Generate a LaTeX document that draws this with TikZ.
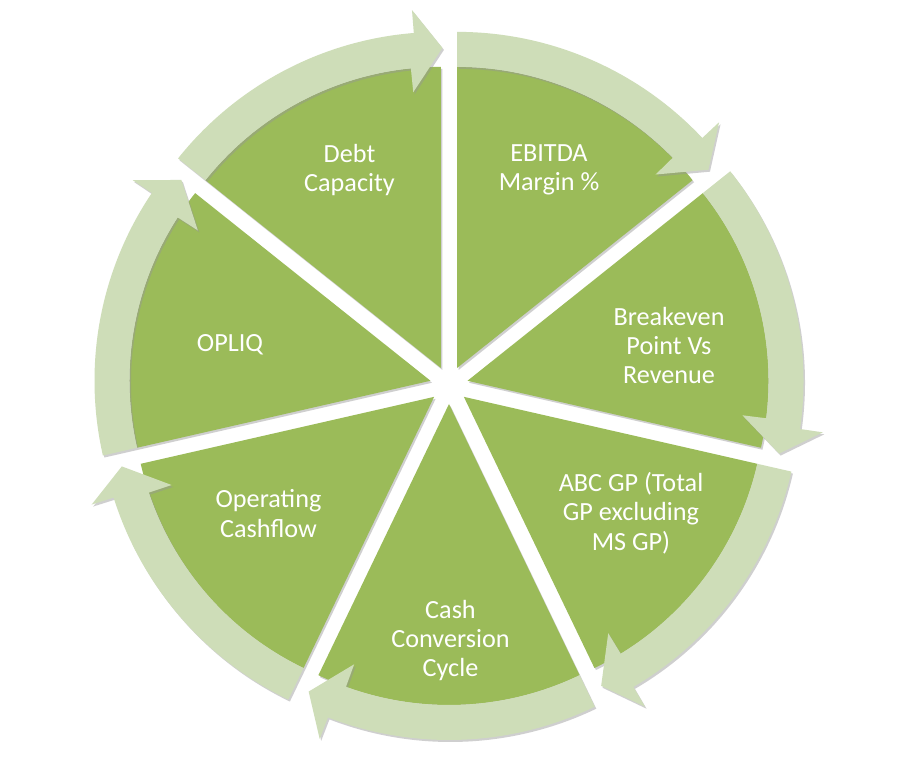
\documentclass[tikz,border=0pt]{standalone}
\usepackage{fontspec}
\setmainfont{Carlito}
\usetikzlibrary{calc}
\definecolor{slicegreen}{RGB}{155,187,89}
\definecolor{bandgreen}{RGB}{206,221,184}
\definecolor{shadowgray}{RGB}{150,150,150}
\begin{document}
\begin{tikzpicture}[x=1pt,y=1pt,
  lbl/.style={text=white, align=center, inner sep=0pt, font=\fontsize{26.2pt}{29.3pt}\selectfont},
  sliceshade/.style={fill=shadowgray, fill opacity=0.45},
  slicefill/.style={fill=slicegreen},
  bandfill/.style={fill=bandgreen}]
\fill[white] (0,0) rectangle (900,774);
\useasboundingbox (0,0) rectangle (900,774);
\coordinate (C) at (449,389);
\def\R{301pt}\def\Ri{301pt}\def\Ro{336pt}\def\D{19pt}
\def\bandpath{($(sc)+(\s:\Ri)$) -- ($(sc)+(\s:\Ro)$) arc[start angle=\s,end angle=\ha,radius=\Ro]
  -- ($(sc)+(\ha:359pt)$) -- ($(sc)+(\tp:320pt)$) -- ($(sc)+(\hb:277pt)$)
  -- ($(sc)+(\hb:\Ri)$) arc[start angle=\hb,end angle=\s,radius=\Ri] -- cycle}
% slice shadows
\foreach \i in {0,...,6}{
  \pgfmathsetmacro\s{90-\i*360/7}
  \pgfmathsetmacro\e{\s-360/7}
  \pgfmathsetmacro\m{\s-180/7}
  \coordinate (sc) at ($(C)+(\m:\D)+(1.5pt,-2pt)$);
  \path[sliceshade] (sc) -- ++(\s:\R) arc[start angle=\s,end angle=\e,radius=\R] -- cycle;
}
% slices
\foreach \i in {0,...,6}{
  \pgfmathsetmacro\s{90-\i*360/7}
  \pgfmathsetmacro\e{\s-360/7}
  \pgfmathsetmacro\m{\s-180/7}
  \coordinate (sc) at ($(C)+(\m:\D)$);
  \path[slicefill] (sc) -- ++(\s:\R) arc[start angle=\s,end angle=\e,radius=\R] -- cycle;
}
% arrow bands
\foreach \i in {0,...,6}{
  \pgfmathsetmacro\s{90-\i*360/7}
  \pgfmathsetmacro\e{\s-360/7}
  \pgfmathsetmacro\m{\s-180/7}
  \pgfmathsetmacro\ha{\e+4.6}
  \pgfmathsetmacro\hb{\e+5.7}
  \pgfmathsetmacro\tp{\e-0.3}
  \coordinate (sc) at ($(C)+(\m:\D)+(1.5pt,-2pt)$);
  \path[sliceshade] \bandpath;
  \coordinate (sc) at ($(C)+(\m:\D)$);
  \path[bandfill] \bandpath;
}
% labels
\node[lbl] (debt) at (349.5,604) {Debt\\Capacity};
\node[lbl] (ebitda) at (549,604) {EBITDA\\Margin \%};
\node[lbl] (breakeven) at (669,428.5) {Breakeven\\Point Vs\\Revenue};
\node[lbl] (abc) at (631,261) {ABC GP (Total\\GP excluding\\MS GP)};
\node[lbl] (cash) at (450.5,133.5) {Cash\\Conversion\\Cycle};
\node[lbl] (opcf) at (268.5,260.4) {Operating\\Cashflow};
\node[lbl] (opliq) at (230,429) {OPLIQ};
\end{tikzpicture}
\end{document}
